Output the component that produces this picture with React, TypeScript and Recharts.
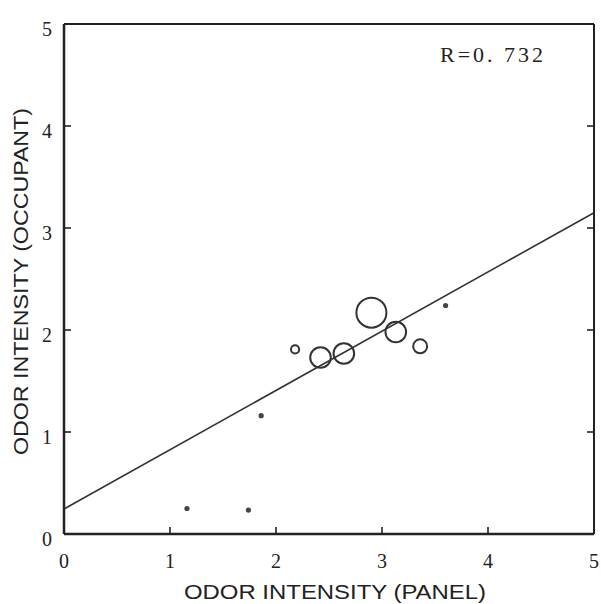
import React from "react";
import {
  ReferenceLine,
  Scatter,
  ScatterChart,
  XAxis,
  YAxis,
  ZAxis,
} from "recharts";

// odor intensity judged by panel (x) vs by occupants (y), bubble = sample weight
const panelIntensity = [1.16, 1.74, 1.86, 2.18, 2.42, 2.64, 2.9, 3.13, 3.36, 3.6];
const occupantIntensity = [0.25, 0.235, 1.16, 1.81, 1.73, 1.77, 2.17, 1.98, 1.84, 2.24];
const sampleWeight = [1, 1, 1, 4, 20, 20, 40, 20, 10, 1];

const axisTicks = [0, 1, 2, 3, 4, 5];
const fitIntercept = 0.245;
const fitSlope = 0.581;
const correlationText = "R=0. 732";

const points = panelIntensity.map((x, i) => ({
  panel: x,
  occupant: occupantIntensity[i],
  weight: sampleWeight[i],
}));

const ink = "#222";
const tickFont = "'Liberation Serif', 'DejaVu Serif', serif";
const titleFont = "'Liberation Sans', Arial, sans-serif";

function Bubble(props: any) {
  const { cx, cy, size, width } = props;
  const r = size != null ? Math.sqrt(size / Math.PI) : width / 2;
  if (r < 3.5) {
    return <circle cx={cx} cy={cy} r={2.6} fill="#444" />;
  }
  return (
    <circle cx={cx} cy={cy} r={r - 1} fill="none" stroke="#333" strokeWidth={2} />
  );
}

function BottomTick(props: any) {
  const { x, y, payload } = props;
  return (
    <g>
      <path d={`M${x},${y}v-7`} stroke={ink} strokeWidth={1.6} fill="none" />
      <text
        x={x}
        y={y + 34}
        textAnchor="middle"
        fontFamily={tickFont}
        fontSize={20}
        fill={ink}
      >
        {payload.value}
      </text>
    </g>
  );
}

function LeftTick(props: any) {
  const { x, y, payload } = props;
  return (
    <g>
      <path d={`M${x},${y}h7`} stroke={ink} strokeWidth={1.6} fill="none" />
      <text
        x={x - 17}
        y={y + 12}
        textAnchor="middle"
        fontFamily={tickFont}
        fontSize={20}
        fill={ink}
      >
        {payload.value}
      </text>
    </g>
  );
}

function TopTick(props: any) {
  const { x, y } = props;
  return <path d={`M${x},${y}v7`} stroke={ink} strokeWidth={1.6} fill="none" />;
}

function RightTick(props: any) {
  const { x, y } = props;
  return <path d={`M${x},${y}h-7`} stroke={ink} strokeWidth={1.6} fill="none" />;
}

export default function App() {
  return (
    <div
      style={{
        position: "absolute",
        left: 0,
        top: 0,
        width: 601,
        height: 604,
        background: "#fff",
      }}
    >
      <ScatterChart
        width={601}
        height={604}
        margin={{ top: 23, right: 6, bottom: 30, left: 20 }}
      >
        <XAxis
          dataKey="panel"
          type="number"
          domain={[0, 5]}
          ticks={axisTicks}
          height={40}
          tickSize={0}
          tickMargin={0}
          tickLine={false}
          tick={BottomTick}
          axisLine={{ stroke: ink, strokeWidth: 2.5 }}
        />
        <XAxis
          xAxisId="top"
          orientation="top"
          type="number"
          domain={[0, 5]}
          allowDataOverflow
          ticks={axisTicks}
          height={1}
          tickSize={0}
          tickMargin={0}
          tickLine={false}
          tick={TopTick}
          axisLine={{ stroke: ink, strokeWidth: 2 }}
        />
        <YAxis
          dataKey="occupant"
          type="number"
          domain={[0, 5]}
          ticks={axisTicks}
          width={44}
          tickSize={0}
          tickMargin={0}
          tickLine={false}
          tick={LeftTick}
          axisLine={{ stroke: ink, strokeWidth: 2.5 }}
        />
        <YAxis
          yAxisId="right"
          orientation="right"
          type="number"
          domain={[0, 5]}
          allowDataOverflow
          ticks={axisTicks}
          width={1}
          tickSize={0}
          tickMargin={0}
          tickLine={false}
          tick={RightTick}
          axisLine={{ stroke: ink, strokeWidth: 2 }}
        />
        <ZAxis dataKey="weight" type="number" domain={[0, 40]} range={[0, 804]} />

        <ReferenceLine
          segment={[
            { x: 0, y: fitIntercept },
            { x: 5, y: fitIntercept + fitSlope * 5 },
          ]}
          stroke="#333"
          strokeWidth={1.6}
          ifOverflow="visible"
        />

        <Scatter data={points} shape={<Bubble />} isAnimationActive={false} />
      </ScatterChart>

      <svg
        width={601}
        height={604}
        style={{ position: "absolute", left: 0, top: 0, pointerEvents: "none" }}
      >
        <text
          x={440}
          y={62}
          fontFamily={tickFont}
          fontSize={22}
          fill={ink}
          textLength={103}
          lengthAdjust="spacing"
        >
          {correlationText}
        </text>
        <text
          x={184}
          y={599}
          fontFamily={titleFont}
          fontSize={20}
          fill={ink}
          textLength={302}
          lengthAdjust="spacingAndGlyphs"
        >
          ODOR INTENSITY (PANEL)
        </text>
        <text
          transform="translate(28, 455) rotate(-90)"
          x={0}
          y={0}
          fontFamily={titleFont}
          fontSize={20}
          fill={ink}
          textLength={347}
          lengthAdjust="spacingAndGlyphs"
        >
          ODOR INTENSITY (OCCUPANT)
        </text>
      </svg>
    </div>
  );
}
